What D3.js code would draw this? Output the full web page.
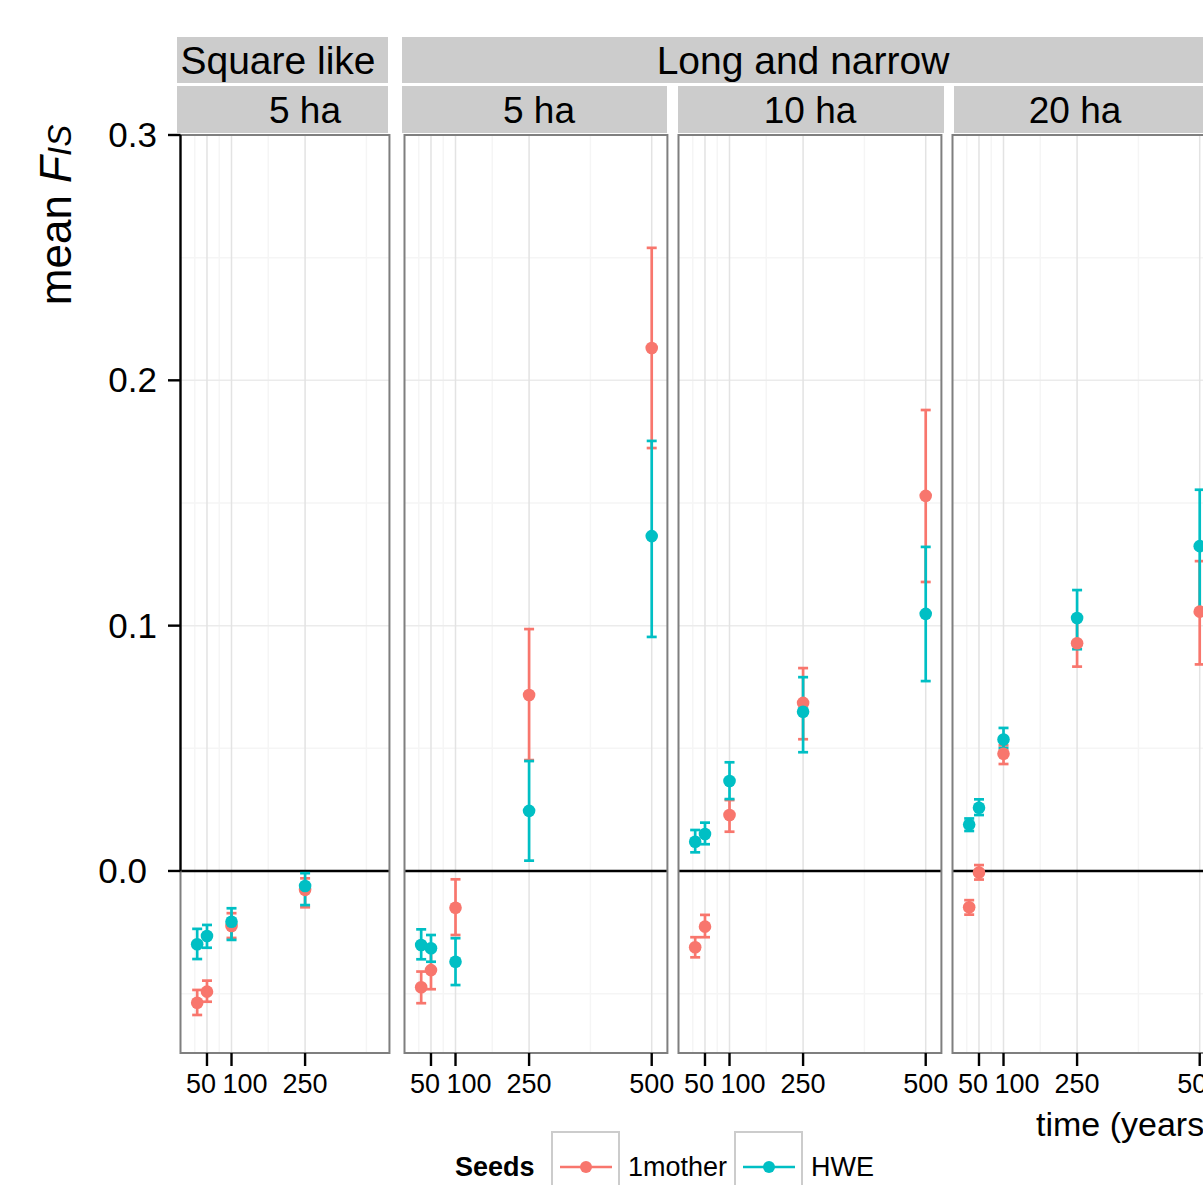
<!DOCTYPE html>
<html>
<head>
<meta charset="utf-8">
<script src="https://cdn.jsdelivr.net/npm/d3@7"></script>
<style>
  body { margin: 0; background: #fff; }
  text { font-family: "Liberation Sans", Arial, Helvetica, sans-serif; fill: #000; }
</style>
</head>
<body>
<div id="chart"></div>
<script>
// Datos (mean Fis por panel y tiempo)
const seeds = ["1mother", "HWE"];
const seedColors = ["#F8766D", "#00BFC4"];
const topLabels = ["Square like", "Long and narrow"];
const subLabels = ["5 ha", "5 ha", "10 ha", "20 ha"];
const timesSquare = [30, 50, 100, 250];
const timesLong = [30, 50, 100, 250, 500];
const xTicks = [50, 100, 250, 500];
const xMinor = [25, 75, 175, 375];
const yTicks = [0.0, 0.1, 0.2, 0.3];
const yMinor = [-0.05, 0.05, 0.15, 0.25];

const motherMean = [
  [-0.0537, -0.0492, -0.0224, -0.0077],
  [-0.0474, -0.0404, -0.0150, 0.0717, 0.2132],
  [-0.0311, -0.0227, 0.0228, 0.0685, 0.1529],
  [-0.0148, -0.0006, 0.0478, 0.0928, 0.1057],
];
const motherLo = [
  [-0.0587, -0.0533, -0.0273, -0.0148],
  [-0.0539, -0.0482, -0.0261, 0.0452, 0.1724],
  [-0.0352, -0.0270, 0.0160, 0.0537, 0.1178],
  [-0.0178, -0.0035, 0.0436, 0.0833, 0.0842],
];
const motherHi = [
  [-0.0485, -0.0447, -0.0172, -0.0030],
  [-0.0410, -0.0322, -0.0034, 0.0986, 0.2540],
  [-0.0270, -0.0179, 0.0289, 0.0827, 0.1879],
  [-0.0119, 0.0024, 0.0512, 0.1023, 0.1263],
];
const hweMean = [
  [-0.0299, -0.0265, -0.0207, -0.0061],
  [-0.0302, -0.0315, -0.0370, 0.0245, 0.1365],
  [0.0119, 0.0151, 0.0367, 0.0649, 0.1048],
  [0.0189, 0.0258, 0.0536, 0.1031, 0.1324],
];
const hweLo = [
  [-0.0359, -0.0313, -0.0281, -0.0139],
  [-0.0360, -0.0370, -0.0465, 0.0042, 0.0954],
  [0.0076, 0.0109, 0.0293, 0.0484, 0.0774],
  [0.0163, 0.0228, 0.0501, 0.0904, 0.1060],
];
const hweHi = [
  [-0.0236, -0.0220, -0.0152, -0.0009],
  [-0.0238, -0.0261, -0.0274, 0.0448, 0.1753],
  [0.0167, 0.0197, 0.0443, 0.0790, 0.1321],
  [0.0214, 0.0292, 0.0583, 0.1145, 0.1554],
];

// Dimensiones generales
const W = 1203, H = 1185;
const panelTop = 135, panelBottom = 1053;
const panelLeft = [180.5, 404.5, 678.5, 952.5];
const pxPerYear = 0.4905;
const xDomains = [[-4, 422], [-4, 532], [-4, 532], [-4, 532]];
const stripSub = [[177, 388, 305], [402, 667, 539], [678, 944, 810], [954, 1216, 1075]];
const stripTop = [[177, 388, 278], [402, 1216, 803]];

const svg = d3.select("#chart").append("svg")
  .attr("width", W).attr("height", H)
  .attr("viewBox", `0 0 ${W} ${H}`);

svg.append("rect").attr("width", W).attr("height", H).attr("fill", "#fff");

const y = d3.scaleLinear().domain([-0.0742, 0.3]).range([panelBottom, panelTop]);

// strips
stripTop.forEach((s, i) => {
  svg.append("rect").attr("x", s[0]).attr("y", 37).attr("width", s[1] - s[0]).attr("height", 46).attr("fill", "#cccccc");
  svg.append("text").attr("x", s[2]).attr("y", 74).attr("text-anchor", "middle")
    .style("font-size", "39px").text(topLabels[i]);
});
stripSub.forEach((s, i) => {
  svg.append("rect").attr("x", s[0]).attr("y", 86).attr("width", s[1] - s[0]).attr("height", 47).attr("fill", "#cccccc");
  svg.append("text").attr("x", s[2]).attr("y", 123).attr("text-anchor", "middle")
    .style("font-size", "37px").text(subLabels[i]);
});

// paneles
subLabels.forEach((lab, p) => {
  const dom = xDomains[p];
  const x0 = panelLeft[p];
  const x = d3.scaleLinear().domain(dom).range([x0, x0 + (dom[1] - dom[0]) * pxPerYear]);
  const g = svg.append("g");
  const [xl, xr] = x.range();

  g.selectAll(".hminor").data(yMinor).enter().append("line")
    .attr("x1", xl).attr("x2", xr).attr("y1", (d) => y(d)).attr("y2", (d) => y(d))
    .attr("stroke", "#f5f5f5").attr("stroke-width", 1.5);
  g.selectAll(".vminor").data(xMinor.filter((d) => d < dom[1])).enter().append("line")
    .attr("x1", (d) => x(d)).attr("x2", (d) => x(d)).attr("y1", panelTop).attr("y2", panelBottom)
    .attr("stroke", "#f5f5f5").attr("stroke-width", 1.5);
  g.selectAll(".hmajor").data(yTicks).enter().append("line")
    .attr("x1", xl).attr("x2", xr).attr("y1", (d) => y(d)).attr("y2", (d) => y(d))
    .attr("stroke", "#ebebeb").attr("stroke-width", 1.5);
  g.selectAll(".vmajor").data(xTicks.filter((d) => d < dom[1])).enter().append("line")
    .attr("x1", (d) => x(d)).attr("x2", (d) => x(d)).attr("y1", panelTop).attr("y2", panelBottom)
    .attr("stroke", "#e3e3e3").attr("stroke-width", 1.5);

  // linea en cero
  g.append("line").attr("x1", xl).attr("x2", xr).attr("y1", y(0)).attr("y2", y(0))
    .attr("stroke", "#000").attr("stroke-width", 2.4);

  const times = p === 0 ? timesSquare : timesLong;
  const series = [
    { seed: 0, mean: motherMean[p], lo: motherLo[p], hi: motherHi[p] },
    { seed: 1, mean: hweMean[p], lo: hweLo[p], hi: hweHi[p] },
  ];

  series.forEach((s) => {
    const rows = times.map((t, i) => ({ t, m: s.mean[i], lo: s.lo[i], hi: s.hi[i] }));
    const col = seedColors[s.seed];
    const eb = g.append("g").attr("stroke", col).attr("stroke-width", 2.7).attr("fill", "none");
    eb.selectAll(".v").data(rows).enter().append("line")
      .attr("x1", (d) => x(d.t)).attr("x2", (d) => x(d.t))
      .attr("y1", (d) => y(d.lo)).attr("y2", (d) => y(d.hi));
    eb.selectAll(".top").data(rows).enter().append("line")
      .attr("x1", (d) => x(d.t) - 5).attr("x2", (d) => x(d.t) + 5)
      .attr("y1", (d) => y(d.hi)).attr("y2", (d) => y(d.hi));
    eb.selectAll(".bot").data(rows).enter().append("line")
      .attr("x1", (d) => x(d.t) - 5).attr("x2", (d) => x(d.t) + 5)
      .attr("y1", (d) => y(d.lo)).attr("y2", (d) => y(d.lo));
  });
  series.forEach((s) => {
    const rows = times.map((t, i) => ({ t, m: s.mean[i] }));
    g.selectAll(".dot" + s.seed).data(rows).enter().append("circle")
      .attr("cx", (d) => x(d.t)).attr("cy", (d) => y(d.m)).attr("r", 6.3)
      .attr("fill", seedColors[s.seed]);
  });

  // borde del panel
  g.append("rect").attr("x", xl).attr("y", panelTop).attr("width", xr - xl).attr("height", panelBottom - panelTop)
    .attr("fill", "none").attr("stroke", "#7f7f7f").attr("stroke-width", 2);

  // eje x (las etiquetas 50 y 100 van desplazadas como en el original)
  const ticks = xTicks.filter((d) => d < dom[1]);
  g.selectAll(".xt").data(ticks).enter().append("line")
    .attr("x1", (d) => x(d)).attr("x2", (d) => x(d)).attr("y1", panelBottom).attr("y2", panelBottom + 13)
    .attr("stroke", "#000").attr("stroke-width", 2.4);
  g.selectAll(".xl").data(ticks).enter().append("text")
    .attr("x", (d) => (d === 50 ? x(d) + 9 : d === 100 ? x(d) - 9 : x(d)))
    .attr("y", 1093)
    .attr("text-anchor", (d) => (d === 50 ? "end" : d === 100 ? "start" : "middle"))
    .style("font-size", "27px").text((d) => d);
});

// eje y
svg.append("line").attr("x1", panelLeft[0]).attr("x2", panelLeft[0]).attr("y1", y(0.3)).attr("y2", y(0))
  .attr("stroke", "#000").attr("stroke-width", 2.2);
svg.selectAll(".yt").data(yTicks).enter().append("line")
  .attr("x1", 168).attr("x2", panelLeft[0]).attr("y1", (d) => y(d)).attr("y2", (d) => y(d))
  .attr("stroke", "#000").attr("stroke-width", 2.4);
svg.selectAll(".yl").data(yTicks).enter().append("text")
  .attr("x", (d) => (d === 0 ? 147 : 157)).attr("y", (d) => y(d) + 12).attr("text-anchor", "end")
  .style("font-size", "35px").text((d) => d3.format(".1f")(d));

// titulos de ejes
const yt = svg.append("text").attr("transform", "translate(71,215) rotate(-90)")
  .attr("text-anchor", "middle").style("font-size", "44px");
yt.append("tspan").text("mean ");
yt.append("tspan").style("font-style", "italic").text("F");
yt.append("tspan").style("font-style", "italic").style("font-size", "33px").text("IS");

svg.append("text").attr("x", 1036).attr("y", 1136).style("font-size", "34px").text("time (years)");

// leyenda
svg.append("text").attr("x", 455).attr("y", 1176).style("font-size", "27px").style("font-weight", "bold").text("Seeds");
const legX = [552, 735];
const leg = svg.selectAll(".leg").data(seeds).enter().append("g")
  .attr("transform", (d, i) => `translate(${legX[i]},0)`);
leg.append("rect").attr("x", 0).attr("y", 1132).attr("width", 67).attr("height", 70)
  .attr("fill", "#fff").attr("stroke", "#cccccc").attr("stroke-width", 2);
leg.append("line").attr("x1", 8).attr("x2", 60).attr("y1", 1167).attr("y2", 1167)
  .attr("stroke", (d, i) => seedColors[i]).attr("stroke-width", 2.4);
leg.append("circle").attr("cx", 34).attr("cy", 1167).attr("r", 6).attr("fill", (d, i) => seedColors[i]);
leg.append("text").attr("x", 76).attr("y", 1176).style("font-size", "27px").text((d) => d);
</script>
</body>
</html>
